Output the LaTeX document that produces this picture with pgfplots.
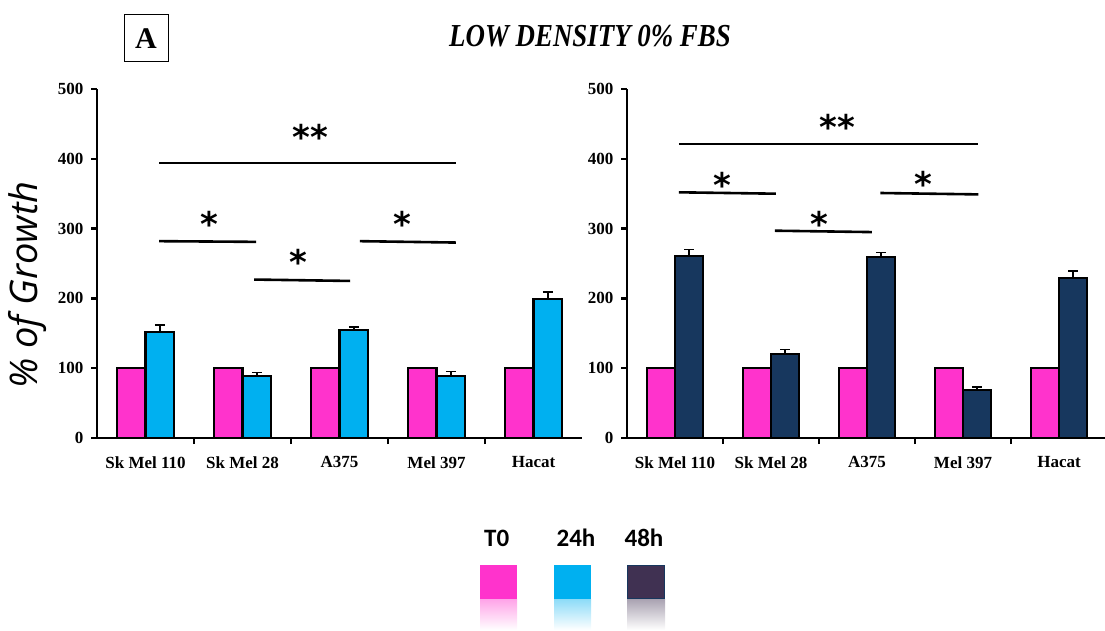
\documentclass[border=0pt]{standalone}
\usepackage{pgfplots}
\pgfplotsset{compat=1.18}
\usepackage{fontspec}
\setmainfont{Liberation Serif}
\newfontfamily\dejavu{DejaVu Sans}
\newfontfamily\opensans{Open Sans}
\newfontfamily\carlito{Carlito}
\definecolor{tpink}{RGB}{255,51,204}
\definecolor{tcyan}{RGB}{0,176,240}
\definecolor{tnavy}{RGB}{23,55,94}
\definecolor{tleg}{RGB}{64,49,82}
\pgfplotsset{
  panel/.style={
    scale only axis, height=349pt,
    ymin=0, ymax=500, xmin=-0.5, xmax=4.5,
    axis x line=bottom, axis y line=left,
    axis line style={-, line width=2.5pt, black},
    tick align=outside, major tick length=6pt,
    tick style={line width=2.5pt, black},
    ytick={0,100,...,500},
    xtick={0.5,1.5,2.5,3.5}, xticklabels={},
    extra x ticks={0,1,2,3,4},
    extra x tick labels={Sk Mel 110,Sk Mel 28,A375,Mel 397,Hacat},
    extra x tick style={major tick length=0pt, tick label style={yshift=-15pt}},
    tick label style={font=\fontsize{17}{17}\selectfont\bfseries},
    yticklabel style={xshift=-4pt},
    /pgf/number format/assume math mode=true,
    clip=false,
  },
  sig/.style={black, line width=2.6pt, no marks, sharp plot, forget plot},
  errsty/.style={error bars/.cd, y dir=plus, y explicit,
    error bar style={line width=1.6pt, black},
    error mark options={rotate=90, mark size=5pt, line width=1.6pt, black}},
}
\tikzset{star/.style={font=\fontsize{34}{34}\selectfont\dejavu\bfseries, anchor=base, yshift=-19.5pt, inner sep=0pt}}
\begin{document}
\begin{tikzpicture}[x=1pt,y=1pt]
\useasboundingbox (0,0) rectangle (1105,630);
% left panel
\begin{axis}[panel, width=485pt, at={(97pt,192pt)}, anchor=south west]
\addplot[ybar, bar width=28.5pt, bar shift=0pt, fill=tpink, draw=black, line width=2.4pt]
  coordinates {(-0.147,100)(0.853,100)(1.853,100)(2.853,100)(3.853,100)};
\addplot[ybar, bar width=28.5pt, bar shift=0pt, fill=tcyan, draw=black, line width=2.4pt, errsty]
  coordinates {(0.147,152) +- (0,10) (1.147,89) +- (0,5) (2.147,155) +- (0,4) (3.147,89) +- (0,6) (4.147,199) +- (0,10)};
\addplot[sig] coordinates {(0.14,394)(3.2,394)};
\addplot[sig] coordinates {(0.14,282)(1.14,281)};
\addplot[sig] coordinates {(1.12,227)(2.11,225)};
\addplot[sig] coordinates {(2.21,282)(3.2,280)};
\node[star] at (axis cs:1.70,441) {**};
\node[star] at (axis cs:0.66,317) {*};
\node[star] at (axis cs:1.58,262) {*};
\node[star] at (axis cs:2.65,317) {*};
\end{axis}
% right panel
\begin{axis}[panel, width=480pt, at={(627pt,192pt)}, anchor=south west]
\addplot[ybar, bar width=28pt, bar shift=0pt, fill=tpink, draw=black, line width=2.4pt]
  coordinates {(-0.146,100)(0.854,100)(1.854,100)(2.854,100)(3.854,100)};
\addplot[ybar, bar width=28pt, bar shift=0pt, fill=tnavy, draw=black, line width=2.4pt, errsty]
  coordinates {(0.146,261) +- (0,9) (1.146,120) +- (0,7) (2.146,259) +- (0,7) (3.146,69) +- (0,4) (4.146,229) +- (0,10)};
\addplot[sig] coordinates {(0.04,421)(3.16,421)};
\addplot[sig] coordinates {(0.04,352)(1.05,350)};
\addplot[sig] coordinates {(1.04,297)(2.05,295)};
\addplot[sig] coordinates {(2.14,351)(3.16,349)};
\node[star] at (axis cs:1.69,456) {**};
\node[star] at (axis cs:0.49,372) {*};
\node[star] at (axis cs:1.50,317) {*};
\node[star] at (axis cs:2.59,374) {*};
\end{axis}
% y label
\node[rotate=90, font=\fontsize{38}{38}\selectfont\opensans\itshape] at (28,345) {\% of Growth};
% title and panel letter
\node[font=\fontsize{32}{32}\selectfont\bfseries\itshape] at (590,594) {\scalebox{0.84}[1]{LOW DENSITY 0\% FBS}};
\draw[line width=1pt] (124,568) rectangle (168,615);
\node[font=\fontsize{30}{30}\selectfont\bfseries] at (146,591.5) {A};
% legend
\node[font=\fontsize{25}{25}\selectfont\carlito\bfseries] at (496.7,92) {T0};
\node[font=\fontsize{25}{25}\selectfont\carlito\bfseries] at (576,92) {24h};
\node[font=\fontsize{25}{25}\selectfont\carlito\bfseries] at (644,92) {48h};
\fill[tpink] (480,31) rectangle (517,65);
\fill[tcyan] (554,31) rectangle (591,65);
\filldraw[fill=tleg, draw=tnavy, line width=1pt] (627.5,31.5) rectangle (664.5,64.5);
\shade[top color=tpink!45, bottom color=white] (480,0) rectangle (517,31);
\shade[top color=tcyan!45, bottom color=white] (554,0) rectangle (591,31);
\shade[top color=tleg!45, bottom color=white] (627,0) rectangle (665,31);
\end{tikzpicture}
\end{document}
